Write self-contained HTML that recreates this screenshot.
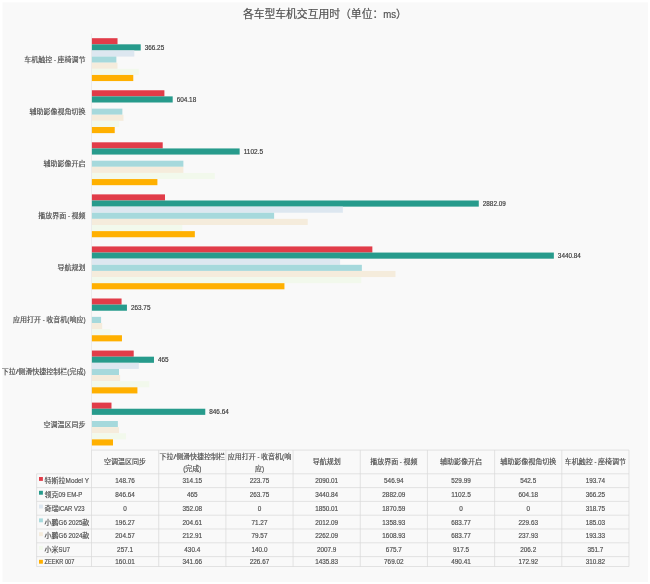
<!DOCTYPE html>
<html><head><meta charset="utf-8"><title>各车型车机交互用时</title>
<style>
html,body{margin:0;padding:0;background:#ffffff;}
body{width:650px;height:584px;overflow:hidden;position:relative;}
svg{position:absolute;left:0;top:0;display:block;}
text{font-family:"Liberation Sans", "Noto Sans CJK SC", sans-serif;stroke:currentColor;stroke-width:0.18px;}
</style></head><body>
<svg width="650" height="584" viewBox="0 0 650 584">
<rect x="0" y="0" width="650" height="584" fill="#ffffff"/>
<rect x="2.5" y="2.3" width="645.5" height="579.7" fill="#f9f9f9"/>

<text x="242.90" y="18.30" font-size="10.8" fill="#505050" color="#505050">各车型车机交互用时（单位：<tspan textLength="12.85" lengthAdjust="spacingAndGlyphs">ms</tspan>）</text>
<rect x="91.50" y="38.19" width="26.03" height="6.125" fill="#e13c49"/>
<rect x="91.50" y="44.32" width="49.21" height="6.125" fill="#279b8c"/>
<rect x="91.50" y="50.44" width="42.83" height="6.125" fill="#dde7f0"/>
<rect x="91.50" y="56.57" width="24.86" height="6.125" fill="#a6d9dc"/>
<rect x="91.50" y="62.69" width="25.98" height="6.125" fill="#f5ecdc"/>
<rect x="91.50" y="68.82" width="47.26" height="6.125" fill="#f2f9ec"/>
<rect x="91.50" y="74.94" width="41.77" height="6.125" fill="#ffb000"/>
<text x="144.71" y="49.78" font-size="7.0" fill="#3c3c3c" color="#3c3c3c"><tspan textLength="19.51" lengthAdjust="spacingAndGlyphs">366.25</tspan></text>
<text x="24.29" y="62.13" font-size="7.0" fill="#505050" color="#505050">车机触控<tspan textLength="5.31" lengthAdjust="spacingAndGlyphs"> - </tspan>座椅调节</text>
<rect x="91.50" y="90.25" width="72.90" height="6.125" fill="#e13c49"/>
<rect x="91.50" y="96.38" width="81.19" height="6.125" fill="#279b8c"/>
<rect x="91.50" y="108.63" width="30.86" height="6.125" fill="#a6d9dc"/>
<rect x="91.50" y="114.75" width="31.97" height="6.125" fill="#f5ecdc"/>
<rect x="91.50" y="120.88" width="27.71" height="6.125" fill="#f2f9ec"/>
<rect x="91.50" y="127.00" width="23.24" height="6.125" fill="#ffb000"/>
<text x="176.69" y="101.84" font-size="7.0" fill="#3c3c3c" color="#3c3c3c"><tspan textLength="19.51" lengthAdjust="spacingAndGlyphs">604.18</tspan></text>
<text x="29.60" y="114.19" font-size="7.0" fill="#505050" color="#505050">辅助影像视角切换</text>
<rect x="91.50" y="142.31" width="71.22" height="6.125" fill="#e13c49"/>
<rect x="91.50" y="148.44" width="148.15" height="6.125" fill="#279b8c"/>
<rect x="91.50" y="160.69" width="91.88" height="6.125" fill="#a6d9dc"/>
<rect x="91.50" y="166.81" width="91.88" height="6.125" fill="#f5ecdc"/>
<rect x="91.50" y="172.94" width="123.29" height="6.125" fill="#f2f9ec"/>
<rect x="91.50" y="179.06" width="65.90" height="6.125" fill="#ffb000"/>
<text x="243.65" y="153.90" font-size="7.0" fill="#3c3c3c" color="#3c3c3c"><tspan textLength="19.51" lengthAdjust="spacingAndGlyphs">1102.5</tspan></text>
<text x="43.60" y="166.25" font-size="7.0" fill="#505050" color="#505050">辅助影像开启</text>
<rect x="91.50" y="194.37" width="73.50" height="6.125" fill="#e13c49"/>
<rect x="91.50" y="200.50" width="387.28" height="6.125" fill="#279b8c"/>
<rect x="91.50" y="206.62" width="251.36" height="6.125" fill="#dde7f0"/>
<rect x="91.50" y="212.75" width="182.61" height="6.125" fill="#a6d9dc"/>
<rect x="91.50" y="218.87" width="216.20" height="6.125" fill="#f5ecdc"/>
<rect x="91.50" y="225.00" width="90.80" height="6.125" fill="#f2f9ec"/>
<rect x="91.50" y="231.12" width="103.34" height="6.125" fill="#ffb000"/>
<text x="482.78" y="205.96" font-size="7.0" fill="#3c3c3c" color="#3c3c3c"><tspan textLength="23.05" lengthAdjust="spacingAndGlyphs">2882.09</tspan></text>
<text x="38.29" y="218.31" font-size="7.0" fill="#505050" color="#505050">播放界面<tspan textLength="5.31" lengthAdjust="spacingAndGlyphs"> - </tspan>视频</text>
<rect x="91.50" y="246.43" width="280.85" height="6.125" fill="#e13c49"/>
<rect x="91.50" y="252.56" width="462.36" height="6.125" fill="#279b8c"/>
<rect x="91.50" y="258.68" width="248.60" height="6.125" fill="#dde7f0"/>
<rect x="91.50" y="264.81" width="270.37" height="6.125" fill="#a6d9dc"/>
<rect x="91.50" y="270.93" width="303.97" height="6.125" fill="#f5ecdc"/>
<rect x="91.50" y="277.06" width="269.81" height="6.125" fill="#f2f9ec"/>
<rect x="91.50" y="283.18" width="192.94" height="6.125" fill="#ffb000"/>
<text x="557.86" y="258.02" font-size="7.0" fill="#3c3c3c" color="#3c3c3c"><tspan textLength="23.05" lengthAdjust="spacingAndGlyphs">3440.84</tspan></text>
<text x="57.60" y="270.37" font-size="7.0" fill="#505050" color="#505050">导航规划</text>
<rect x="91.50" y="298.49" width="30.07" height="6.125" fill="#e13c49"/>
<rect x="91.50" y="304.62" width="35.44" height="6.125" fill="#279b8c"/>
<rect x="91.50" y="316.87" width="9.58" height="6.125" fill="#a6d9dc"/>
<rect x="91.50" y="322.99" width="10.69" height="6.125" fill="#f5ecdc"/>
<rect x="91.50" y="329.12" width="18.81" height="6.125" fill="#f2f9ec"/>
<rect x="91.50" y="335.24" width="30.46" height="6.125" fill="#ffb000"/>
<text x="130.94" y="310.08" font-size="7.0" fill="#3c3c3c" color="#3c3c3c"><tspan textLength="19.51" lengthAdjust="spacingAndGlyphs">263.75</tspan></text>
<text x="13.05" y="322.43" font-size="7.0" fill="#505050" color="#505050">应用打开<tspan textLength="5.31" lengthAdjust="spacingAndGlyphs"> - </tspan>收音机<tspan textLength="2.12" lengthAdjust="spacingAndGlyphs">(</tspan>响应<tspan textLength="2.12" lengthAdjust="spacingAndGlyphs">)</tspan></text>
<rect x="91.50" y="350.55" width="42.21" height="6.125" fill="#e13c49"/>
<rect x="91.50" y="356.68" width="62.48" height="6.125" fill="#279b8c"/>
<rect x="91.50" y="362.80" width="47.31" height="6.125" fill="#dde7f0"/>
<rect x="91.50" y="368.93" width="27.49" height="6.125" fill="#a6d9dc"/>
<rect x="91.50" y="375.05" width="28.61" height="6.125" fill="#f5ecdc"/>
<rect x="91.50" y="381.18" width="57.83" height="6.125" fill="#f2f9ec"/>
<rect x="91.50" y="387.30" width="45.91" height="6.125" fill="#ffb000"/>
<text x="157.98" y="362.14" font-size="7.0" fill="#3c3c3c" color="#3c3c3c"><tspan textLength="10.64" lengthAdjust="spacingAndGlyphs">465</tspan></text>
<text x="1.65" y="374.49" font-size="7.0" fill="#505050" color="#505050">下拉<tspan textLength="2.70" lengthAdjust="spacingAndGlyphs">/</tspan>侧滑快捷控制栏<tspan textLength="2.12" lengthAdjust="spacingAndGlyphs">(</tspan>完成<tspan textLength="2.12" lengthAdjust="spacingAndGlyphs">)</tspan></text>
<rect x="91.50" y="402.61" width="19.99" height="6.125" fill="#e13c49"/>
<rect x="91.50" y="408.74" width="113.77" height="6.125" fill="#279b8c"/>
<rect x="91.50" y="420.99" width="26.37" height="6.125" fill="#a6d9dc"/>
<rect x="91.50" y="427.11" width="27.49" height="6.125" fill="#f5ecdc"/>
<rect x="91.50" y="433.24" width="34.55" height="6.125" fill="#f2f9ec"/>
<rect x="91.50" y="439.36" width="21.50" height="6.125" fill="#ffb000"/>
<text x="209.27" y="414.20" font-size="7.0" fill="#3c3c3c" color="#3c3c3c"><tspan textLength="19.51" lengthAdjust="spacingAndGlyphs">846.64</tspan></text>
<text x="43.60" y="426.55" font-size="7.0" fill="#505050" color="#505050">空调温区同步</text>
<line x1="91.5" y1="33.6" x2="91.5" y2="450.1" stroke="#e9e9e9" stroke-width="0.8"/>
<line x1="91.5" y1="450.1" x2="629.0" y2="450.1" stroke="#d9d9d9" stroke-width="0.7"/>
<line x1="36.6" y1="473.80" x2="629.0" y2="473.80" stroke="#d9d9d9" stroke-width="0.7"/>
<line x1="36.6" y1="487.60" x2="629.0" y2="487.60" stroke="#d9d9d9" stroke-width="0.7"/>
<line x1="36.6" y1="501.40" x2="629.0" y2="501.40" stroke="#d9d9d9" stroke-width="0.7"/>
<line x1="36.6" y1="515.20" x2="629.0" y2="515.20" stroke="#d9d9d9" stroke-width="0.7"/>
<line x1="36.6" y1="529.00" x2="629.0" y2="529.00" stroke="#d9d9d9" stroke-width="0.7"/>
<line x1="36.6" y1="542.80" x2="629.0" y2="542.80" stroke="#d9d9d9" stroke-width="0.7"/>
<line x1="36.6" y1="556.60" x2="629.0" y2="556.60" stroke="#d9d9d9" stroke-width="0.7"/>
<line x1="36.6" y1="566.50" x2="629.0" y2="566.50" stroke="#d9d9d9" stroke-width="0.7"/>
<line x1="36.6" y1="473.8" x2="36.6" y2="566.5" stroke="#d9d9d9" stroke-width="0.7"/>
<line x1="91.50" y1="450.1" x2="91.50" y2="566.5" stroke="#d9d9d9" stroke-width="0.7"/>
<line x1="158.69" y1="450.1" x2="158.69" y2="566.5" stroke="#d9d9d9" stroke-width="0.7"/>
<line x1="225.88" y1="450.1" x2="225.88" y2="566.5" stroke="#d9d9d9" stroke-width="0.7"/>
<line x1="293.06" y1="450.1" x2="293.06" y2="566.5" stroke="#d9d9d9" stroke-width="0.7"/>
<line x1="360.25" y1="450.1" x2="360.25" y2="566.5" stroke="#d9d9d9" stroke-width="0.7"/>
<line x1="427.44" y1="450.1" x2="427.44" y2="566.5" stroke="#d9d9d9" stroke-width="0.7"/>
<line x1="494.62" y1="450.1" x2="494.62" y2="566.5" stroke="#d9d9d9" stroke-width="0.7"/>
<line x1="561.81" y1="450.1" x2="561.81" y2="566.5" stroke="#d9d9d9" stroke-width="0.7"/>
<line x1="629.00" y1="450.1" x2="629.00" y2="566.5" stroke="#d9d9d9" stroke-width="0.7"/>
<text x="104.09" y="464.45" font-size="7.0" fill="#505050" color="#505050">空调温区同步</text>
<text x="159.43" y="458.55" font-size="7.0" fill="#505050" color="#505050">下拉<tspan textLength="2.70" lengthAdjust="spacingAndGlyphs">/</tspan>侧滑快捷控制栏</text>
<text x="183.16" y="470.55" font-size="7.0" fill="#505050" color="#505050"><tspan textLength="2.12" lengthAdjust="spacingAndGlyphs">(</tspan>完成<tspan textLength="2.12" lengthAdjust="spacingAndGlyphs">)</tspan></text>
<text x="227.75" y="458.55" font-size="7.0" fill="#505050" color="#505050">应用打开<tspan textLength="5.31" lengthAdjust="spacingAndGlyphs"> - </tspan>收音机<tspan textLength="2.12" lengthAdjust="spacingAndGlyphs">(</tspan>响</text>
<text x="254.91" y="470.55" font-size="7.0" fill="#505050" color="#505050">应<tspan textLength="2.12" lengthAdjust="spacingAndGlyphs">)</tspan></text>
<text x="312.66" y="464.45" font-size="7.0" fill="#505050" color="#505050">导航规划</text>
<text x="370.19" y="464.45" font-size="7.0" fill="#505050" color="#505050">播放界面<tspan textLength="5.31" lengthAdjust="spacingAndGlyphs"> - </tspan>视频</text>
<text x="440.03" y="464.45" font-size="7.0" fill="#505050" color="#505050">辅助影像开启</text>
<text x="500.22" y="464.45" font-size="7.0" fill="#505050" color="#505050">辅助影像视角切换</text>
<text x="564.75" y="464.45" font-size="7.0" fill="#505050" color="#505050">车机触控<tspan textLength="5.31" lengthAdjust="spacingAndGlyphs"> - </tspan>座椅调节</text>
<rect x="39.0" y="477.00" width="3.9" height="3.9" fill="#e13c49"/>
<text x="44.60" y="483.20" font-size="7.0" fill="#505050" color="#505050">特斯拉<tspan textLength="23.44" lengthAdjust="spacingAndGlyphs">Model Y</tspan></text>
<text x="115.34" y="483.20" font-size="7.0" fill="#505050" color="#505050"><tspan textLength="19.51" lengthAdjust="spacingAndGlyphs">148.76</tspan></text>
<text x="182.53" y="483.20" font-size="7.0" fill="#505050" color="#505050"><tspan textLength="19.51" lengthAdjust="spacingAndGlyphs">314.15</tspan></text>
<text x="249.72" y="483.20" font-size="7.0" fill="#505050" color="#505050"><tspan textLength="19.51" lengthAdjust="spacingAndGlyphs">223.75</tspan></text>
<text x="315.13" y="483.20" font-size="7.0" fill="#505050" color="#505050"><tspan textLength="23.05" lengthAdjust="spacingAndGlyphs">2090.01</tspan></text>
<text x="384.09" y="483.20" font-size="7.0" fill="#505050" color="#505050"><tspan textLength="19.51" lengthAdjust="spacingAndGlyphs">546.94</tspan></text>
<text x="451.28" y="483.20" font-size="7.0" fill="#505050" color="#505050"><tspan textLength="19.51" lengthAdjust="spacingAndGlyphs">529.99</tspan></text>
<text x="520.24" y="483.20" font-size="7.0" fill="#505050" color="#505050"><tspan textLength="15.96" lengthAdjust="spacingAndGlyphs">542.5</tspan></text>
<text x="585.65" y="483.20" font-size="7.0" fill="#505050" color="#505050"><tspan textLength="19.51" lengthAdjust="spacingAndGlyphs">193.74</tspan></text>
<rect x="39.0" y="490.80" width="3.9" height="3.9" fill="#279b8c"/>
<text x="44.60" y="497.00" font-size="7.0" fill="#505050" color="#505050">领克<tspan textLength="23.84" lengthAdjust="spacingAndGlyphs">09 EM-P</tspan></text>
<text x="115.34" y="497.00" font-size="7.0" fill="#505050" color="#505050"><tspan textLength="19.51" lengthAdjust="spacingAndGlyphs">846.64</tspan></text>
<text x="186.96" y="497.00" font-size="7.0" fill="#505050" color="#505050"><tspan textLength="10.64" lengthAdjust="spacingAndGlyphs">465</tspan></text>
<text x="249.72" y="497.00" font-size="7.0" fill="#505050" color="#505050"><tspan textLength="19.51" lengthAdjust="spacingAndGlyphs">263.75</tspan></text>
<text x="315.13" y="497.00" font-size="7.0" fill="#505050" color="#505050"><tspan textLength="23.05" lengthAdjust="spacingAndGlyphs">3440.84</tspan></text>
<text x="382.32" y="497.00" font-size="7.0" fill="#505050" color="#505050"><tspan textLength="23.05" lengthAdjust="spacingAndGlyphs">2882.09</tspan></text>
<text x="451.28" y="497.00" font-size="7.0" fill="#505050" color="#505050"><tspan textLength="19.51" lengthAdjust="spacingAndGlyphs">1102.5</tspan></text>
<text x="518.47" y="497.00" font-size="7.0" fill="#505050" color="#505050"><tspan textLength="19.51" lengthAdjust="spacingAndGlyphs">604.18</tspan></text>
<text x="585.65" y="497.00" font-size="7.0" fill="#505050" color="#505050"><tspan textLength="19.51" lengthAdjust="spacingAndGlyphs">366.25</tspan></text>
<rect x="39.0" y="504.60" width="3.9" height="3.9" fill="#dde7f0"/>
<text x="44.60" y="510.80" font-size="7.0" fill="#505050" color="#505050">奇瑞<tspan textLength="25.84" lengthAdjust="spacingAndGlyphs">iCAR V23</tspan></text>
<text x="123.32" y="510.80" font-size="7.0" fill="#505050" color="#505050"><tspan textLength="3.55" lengthAdjust="spacingAndGlyphs">0</tspan></text>
<text x="182.53" y="510.80" font-size="7.0" fill="#505050" color="#505050"><tspan textLength="19.51" lengthAdjust="spacingAndGlyphs">352.08</tspan></text>
<text x="257.69" y="510.80" font-size="7.0" fill="#505050" color="#505050"><tspan textLength="3.55" lengthAdjust="spacingAndGlyphs">0</tspan></text>
<text x="315.13" y="510.80" font-size="7.0" fill="#505050" color="#505050"><tspan textLength="23.05" lengthAdjust="spacingAndGlyphs">1850.01</tspan></text>
<text x="382.32" y="510.80" font-size="7.0" fill="#505050" color="#505050"><tspan textLength="23.05" lengthAdjust="spacingAndGlyphs">1870.59</tspan></text>
<text x="459.26" y="510.80" font-size="7.0" fill="#505050" color="#505050"><tspan textLength="3.55" lengthAdjust="spacingAndGlyphs">0</tspan></text>
<text x="526.44" y="510.80" font-size="7.0" fill="#505050" color="#505050"><tspan textLength="3.55" lengthAdjust="spacingAndGlyphs">0</tspan></text>
<text x="585.65" y="510.80" font-size="7.0" fill="#505050" color="#505050"><tspan textLength="19.51" lengthAdjust="spacingAndGlyphs">318.75</tspan></text>
<rect x="39.0" y="518.40" width="3.9" height="3.9" fill="#a6d9dc"/>
<text x="44.60" y="524.60" font-size="7.0" fill="#505050" color="#505050">小鹏<tspan textLength="23.74" lengthAdjust="spacingAndGlyphs">G6 2025</tspan>款</text>
<text x="115.34" y="524.60" font-size="7.0" fill="#505050" color="#505050"><tspan textLength="19.51" lengthAdjust="spacingAndGlyphs">196.27</tspan></text>
<text x="182.53" y="524.60" font-size="7.0" fill="#505050" color="#505050"><tspan textLength="19.51" lengthAdjust="spacingAndGlyphs">204.61</tspan></text>
<text x="251.49" y="524.60" font-size="7.0" fill="#505050" color="#505050"><tspan textLength="15.96" lengthAdjust="spacingAndGlyphs">71.27</tspan></text>
<text x="315.13" y="524.60" font-size="7.0" fill="#505050" color="#505050"><tspan textLength="23.05" lengthAdjust="spacingAndGlyphs">2012.09</tspan></text>
<text x="382.32" y="524.60" font-size="7.0" fill="#505050" color="#505050"><tspan textLength="23.05" lengthAdjust="spacingAndGlyphs">1358.93</tspan></text>
<text x="451.28" y="524.60" font-size="7.0" fill="#505050" color="#505050"><tspan textLength="19.51" lengthAdjust="spacingAndGlyphs">683.77</tspan></text>
<text x="518.47" y="524.60" font-size="7.0" fill="#505050" color="#505050"><tspan textLength="19.51" lengthAdjust="spacingAndGlyphs">229.63</tspan></text>
<text x="585.65" y="524.60" font-size="7.0" fill="#505050" color="#505050"><tspan textLength="19.51" lengthAdjust="spacingAndGlyphs">185.03</tspan></text>
<rect x="39.0" y="532.20" width="3.9" height="3.9" fill="#f5ecdc"/>
<text x="44.60" y="538.40" font-size="7.0" fill="#505050" color="#505050">小鹏<tspan textLength="23.74" lengthAdjust="spacingAndGlyphs">G6 2024</tspan>款</text>
<text x="115.34" y="538.40" font-size="7.0" fill="#505050" color="#505050"><tspan textLength="19.51" lengthAdjust="spacingAndGlyphs">204.57</tspan></text>
<text x="182.53" y="538.40" font-size="7.0" fill="#505050" color="#505050"><tspan textLength="19.51" lengthAdjust="spacingAndGlyphs">212.91</tspan></text>
<text x="251.49" y="538.40" font-size="7.0" fill="#505050" color="#505050"><tspan textLength="15.96" lengthAdjust="spacingAndGlyphs">79.57</tspan></text>
<text x="315.13" y="538.40" font-size="7.0" fill="#505050" color="#505050"><tspan textLength="23.05" lengthAdjust="spacingAndGlyphs">2262.09</tspan></text>
<text x="382.32" y="538.40" font-size="7.0" fill="#505050" color="#505050"><tspan textLength="23.05" lengthAdjust="spacingAndGlyphs">1608.93</tspan></text>
<text x="451.28" y="538.40" font-size="7.0" fill="#505050" color="#505050"><tspan textLength="19.51" lengthAdjust="spacingAndGlyphs">683.77</tspan></text>
<text x="518.47" y="538.40" font-size="7.0" fill="#505050" color="#505050"><tspan textLength="19.51" lengthAdjust="spacingAndGlyphs">237.93</tspan></text>
<text x="585.65" y="538.40" font-size="7.0" fill="#505050" color="#505050"><tspan textLength="19.51" lengthAdjust="spacingAndGlyphs">193.33</tspan></text>
<rect x="39.0" y="546.00" width="3.9" height="3.9" fill="#f2f9ec"/>
<text x="44.60" y="552.20" font-size="7.0" fill="#505050" color="#505050">小米<tspan textLength="11.26" lengthAdjust="spacingAndGlyphs">SU7</tspan></text>
<text x="117.11" y="552.20" font-size="7.0" fill="#505050" color="#505050"><tspan textLength="15.96" lengthAdjust="spacingAndGlyphs">257.1</tspan></text>
<text x="184.30" y="552.20" font-size="7.0" fill="#505050" color="#505050"><tspan textLength="15.96" lengthAdjust="spacingAndGlyphs">430.4</tspan></text>
<text x="251.49" y="552.20" font-size="7.0" fill="#505050" color="#505050"><tspan textLength="15.96" lengthAdjust="spacingAndGlyphs">140.0</tspan></text>
<text x="316.90" y="552.20" font-size="7.0" fill="#505050" color="#505050"><tspan textLength="19.51" lengthAdjust="spacingAndGlyphs">2007.9</tspan></text>
<text x="385.86" y="552.20" font-size="7.0" fill="#505050" color="#505050"><tspan textLength="15.96" lengthAdjust="spacingAndGlyphs">675.7</tspan></text>
<text x="453.05" y="552.20" font-size="7.0" fill="#505050" color="#505050"><tspan textLength="15.96" lengthAdjust="spacingAndGlyphs">917.5</tspan></text>
<text x="520.24" y="552.20" font-size="7.0" fill="#505050" color="#505050"><tspan textLength="15.96" lengthAdjust="spacingAndGlyphs">206.2</tspan></text>
<text x="587.43" y="552.20" font-size="7.0" fill="#505050" color="#505050"><tspan textLength="15.96" lengthAdjust="spacingAndGlyphs">351.7</tspan></text>
<rect x="39.0" y="559.80" width="3.9" height="3.9" fill="#ffb000"/>
<text x="44.60" y="564.05" font-size="7.0" fill="#505050" color="#505050"><tspan textLength="29.78" lengthAdjust="spacingAndGlyphs">ZEEKR 007</tspan></text>
<text x="115.34" y="564.05" font-size="7.0" fill="#505050" color="#505050"><tspan textLength="19.51" lengthAdjust="spacingAndGlyphs">160.01</tspan></text>
<text x="182.53" y="564.05" font-size="7.0" fill="#505050" color="#505050"><tspan textLength="19.51" lengthAdjust="spacingAndGlyphs">341.66</tspan></text>
<text x="249.72" y="564.05" font-size="7.0" fill="#505050" color="#505050"><tspan textLength="19.51" lengthAdjust="spacingAndGlyphs">226.67</tspan></text>
<text x="315.13" y="564.05" font-size="7.0" fill="#505050" color="#505050"><tspan textLength="23.05" lengthAdjust="spacingAndGlyphs">1435.83</tspan></text>
<text x="384.09" y="564.05" font-size="7.0" fill="#505050" color="#505050"><tspan textLength="19.51" lengthAdjust="spacingAndGlyphs">769.02</tspan></text>
<text x="451.28" y="564.05" font-size="7.0" fill="#505050" color="#505050"><tspan textLength="19.51" lengthAdjust="spacingAndGlyphs">490.41</tspan></text>
<text x="518.47" y="564.05" font-size="7.0" fill="#505050" color="#505050"><tspan textLength="19.51" lengthAdjust="spacingAndGlyphs">172.92</tspan></text>
<text x="585.65" y="564.05" font-size="7.0" fill="#505050" color="#505050"><tspan textLength="19.51" lengthAdjust="spacingAndGlyphs">310.82</tspan></text>
</svg>
</body></html>
